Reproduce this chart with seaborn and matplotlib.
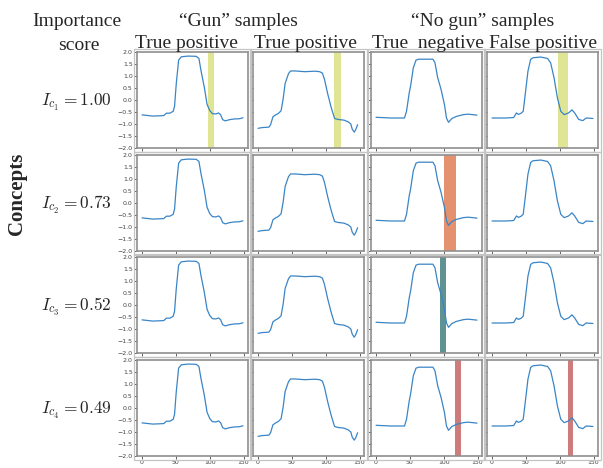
import matplotlib.pyplot as plt
import seaborn as sns
from matplotlib.patches import Rectangle

# ---- data ----
# sample 1: "Gun" true positive
s1_t = [0, 16, 32, 36, 41, 46, 48, 50.5, 54, 58, 68, 80, 84, 87, 92, 96, 100, 104, 109, 113, 116, 119, 123, 129, 136, 144, 149]
s1_v = [-0.62, -0.67, -0.65, -0.55, -0.55, -0.47, -0.26, 0.67, 1.66, 1.80, 1.83, 1.82, 1.73, 1.23, 0.52, -0.18, -0.44, -0.57, -0.58, -0.54, -0.61, -0.82, -0.87, -0.82, -0.79, -0.78, -0.74]
# sample 2: "Gun" true positive
s2_t = [0, 6, 16, 18.5, 22, 26, 30, 34, 37, 40, 45, 48, 55, 69, 84, 91, 95, 98, 103, 108, 113, 118, 127, 133, 137, 139, 142, 144, 147]
s2_v = [-1.18, -1.15, -1.13, -1.03, -0.70, -0.62, -0.56, -0.45, 0.03, 0.69, 1.10, 1.21, 1.21, 1.18, 1.20, 1.18, 1.12, 0.87, 0.24, -0.31, -0.77, -0.81, -0.84, -0.91, -1.00, -1.21, -1.34, -1.25, -1.03]
# sample 3: "No gun" true negative
s3_t = [0, 21, 42, 45, 49, 51, 55, 59, 63, 75, 84, 87, 91, 96, 101, 104, 107, 112, 119, 129, 136, 149]
s3_v = [-0.72, -0.75, -0.75, -0.47, 0.30, 0.58, 1.34, 1.66, 1.70, 1.70, 1.70, 1.55, 0.93, 0.44, -0.19, -0.75, -0.93, -0.77, -0.68, -0.61, -0.59, -0.63]
# sample 4: "No gun" false positive
s4_t = [0, 20, 32, 36, 39, 43, 46, 49, 53, 57, 60.5, 72, 82, 86.5, 91.5, 96.5, 101.5, 106.5, 113, 118, 122, 128, 134, 139, 149]
s4_v = [-0.75, -0.75, -0.73, -0.54, -0.60, -0.55, -0.47, 0.23, 1.20, 1.69, 1.76, 1.79, 1.73, 1.55, 0.93, 0.09, -0.47, -0.61, -0.54, -0.41, -0.54, -0.81, -0.86, -0.75, -0.77]

series = [(s1_t, s1_v), (s2_t, s2_v), (s3_t, s3_v), (s4_t, s4_v)]

col_titles = ["True positive", "True positive", "True  negative", "False positive"]
concept_labels = [r"$I_{c_1} = 1.00$", r"$I_{c_2} = 0.73$", r"$I_{c_3} = 0.52$", r"$I_{c_4} = 0.49$"]

# highlighted time windows: (row, col, start, end, colour)
bands = [
    (0, 0, 97, 106, "#dfe595"),
    (0, 1, 112, 123, "#dfe595"),
    (0, 3, 98, 112, "#dfe595"),
    (1, 2, 101, 118, "#e4916f"),
    (2, 2, 95, 104, "#5f9393"),
    (3, 2, 116, 126, "#cd7c7b"),
    (3, 3, 112, 119, "#cd7c7b"),
]

sns.set_style("white")
plt.rcParams['mathtext.fontset'] = 'cm'
serif = ['Liberation Serif', 'DejaVu Serif']

W, H = 603, 468
fig = plt.figure(figsize=(W / 100, H / 100), dpi=100)

col_left = [137, 253, 371, 487]
row_top = [52, 155, 257, 360]
aw, ah = 111, 96

for r in range(4):
    for c in range(4):
        ax = fig.add_axes([col_left[c] / W, 1 - (row_top[r] + ah) / H, aw / W, ah / H])
        t, v = series[c]
        sns.lineplot(x=t, y=v, ax=ax, color="#3a85c6", lw=0.9)
        for br, bc, x0, x1, col in bands:
            if br == r and bc == c:
                ax.axvspan(x0, x1, color=col, lw=0, zorder=0)
        ax.set_xlim(-7.45, 156.45)
        ax.set_ylim(-2, 2)
        ax.set_xticks([0, 50, 100, 150])
        ax.set_yticks([-2, -1.5, -1, -0.5, 0, 0.5, 1, 1.5, 2])
        ax.tick_params(length=2, width=0.6, labelsize=4.5, pad=1, colors="#444444",
                       left=True, bottom=True)
        if c != 0:
            ax.set_yticklabels([])
        if r != 3:
            ax.set_xticklabels([])
        for sp in ax.spines.values():
            sp.set_color("#8f8f8f")
            sp.set_linewidth(1.2)
        # light outer frame of each small panel
        x0 = (col_left[c] - 3) / W
        y0 = 1 - (row_top[r] + ah + 4) / H
        fig.add_artist(Rectangle((x0, y0), (aw + 6) / W, (ah + 7) / H,
                                 transform=fig.transFigure, fill=False,
                                 ec="#c4c4c4", lw=0.9))

# headers
def ftext(x, y, s, **kw):
    fig.text(x / W, 1 - y / H, s, ha="center", va="center", **kw)

ftext(77, 21, "Importance", family=serif, fontsize=14)
ftext(79, 46, "score", family=serif, fontsize=14)
ftext(238, 21, "\u201cGun\u201d samples", family=serif, fontsize=14)
ftext(483, 21, "\u201cNo gun\u201d samples", family=serif, fontsize=14)
for cx, s in zip([186, 305, 428, 543], col_titles):
    ftext(cx, 43, s, family=serif, fontsize=14)
for r, s in enumerate(concept_labels):
    ftext(76, row_top[r] + ah / 2 + 2, s, fontsize=12.5)
ftext(17, 194, "Concepts", family=serif, fontsize=15, fontweight="bold", rotation=90)

fig.savefig("out.png", dpi=100)
